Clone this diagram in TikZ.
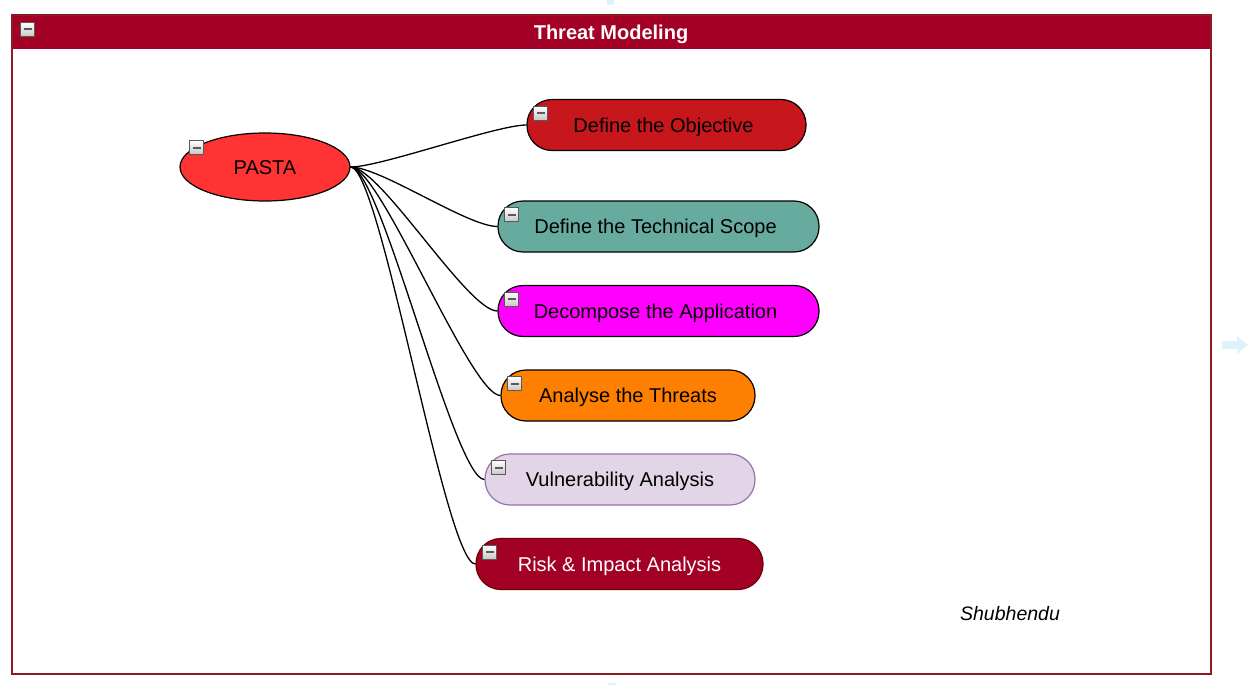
\documentclass[tikz,border=0pt]{standalone}
\usepackage{fontspec}
\setmainfont{Liberation Sans}
\usetikzlibrary{shapes.geometric}

\definecolor{frameRed}{HTML}{A20025}
\definecolor{frameLine}{HTML}{8A1C22}
\definecolor{pastaRed}{HTML}{FF3333}
\definecolor{objRed}{HTML}{C8161D}
\definecolor{scopeTeal}{HTML}{67AB9F}
\definecolor{decompPink}{HTML}{FF00FF}
\definecolor{threatOrange}{HTML}{FF8000}
\definecolor{vulnFill}{HTML}{E1D5E7}
\definecolor{vulnLine}{HTML}{9673A6}
\definecolor{riskLine}{HTML}{6F0000}
\definecolor{hintBlue}{HTML}{DDF3FC}

\tikzset{
  stage/.style={draw=black, line width=1.2pt, rounded corners=25pt,
    minimum height=51pt, inner sep=0pt, text height=18pt, text depth=4pt,
    font=\fontsize{20}{24}\selectfont},
  toggle/.style={draw=gray!70!black, top color=white, bottom color=gray!45,
    minimum size=14pt, inner sep=0pt, line width=1pt,
    path picture={\draw[line width=2pt]
      ([xshift=3pt]path picture bounding box.west) --
      ([xshift=-3pt]path picture bounding box.east);}},
  branch/.style={line width=1.3pt, black}
}

\begin{document}
\begin{tikzpicture}[x=1pt, y=-1pt]
\useasboundingbox (0,0) rectangle (1255,685);

% faint hints round the frame
\fill[hintBlue] (607,0) rectangle (614,5);
\fill[hintBlue] (608,683) rectangle (616,685);
\fill[hintBlue] (1222,341) -- (1237,341) -- (1237,336) -- (1248,345)
  -- (1237,354) -- (1237,349) -- (1222,349) -- cycle;

% frame and title bar
\fill[frameRed] (12,15) rectangle (1211,49);
\draw[frameLine, line width=2pt] (12,15) rectangle (1211,674);
\node[text=white, text height=17pt, text depth=3pt,
  font=\bfseries\fontsize{20}{24}\selectfont] (title) at (611,33) {Threat Modeling};
\node[toggle] (ttitle) at (27.5,29.5) {};

% PASTA
\node[ellipse, draw=black, line width=1.2pt, fill=pastaRed,
  minimum width=170pt, minimum height=68pt, inner sep=0pt,
  text height=17pt, text depth=3pt,
  font=\fontsize{20}{24}\selectfont] (pasta) at (265,167) {PASTA};
\node[toggle] (tpasta) at (196.5,147.5) {};

% stages
\node[stage, fill=objRed, minimum width=279pt] (obj) at (666.5,125) {\hspace{-6pt}Define the Objective};
\node[stage, fill=scopeTeal, minimum width=321pt] (scope) at (658.5,226.5) {\hspace{-6pt}Define the Technical Scope};
\node[stage, fill=decompPink, minimum width=321pt] (decomp) at (658.5,311) {\hspace{-6pt}Decompose the Application};
\node[stage, fill=threatOrange, minimum width=254pt] (threats) at (628,395.5) {Analyse the Threats};
\node[stage, fill=vulnFill, draw=vulnLine, minimum width=270pt] (vuln) at (620,479.5) {Vulnerability Analysis};
\node[stage, fill=frameRed, draw=riskLine, text=white, minimum width=287pt] (risk) at (619.5,564) {Risk \& Impact Analysis};

% toggles and branches
\foreach \s in {obj, scope, decomp, threats, vuln, risk}{
  \node[toggle] (t\s) at ([xshift=14.5pt, yshift=-14.5pt]\s.north west) {};
  \draw[branch] (pasta.east) .. controls +(30,0) and +(-30,0) .. (\s.west);
}

% signature
\node[font=\itshape\fontsize{19.5}{23}\selectfont, text height=16pt, text depth=3pt] (sign) at (1010,614) {Shubhendu};

\end{tikzpicture}
\end{document}
